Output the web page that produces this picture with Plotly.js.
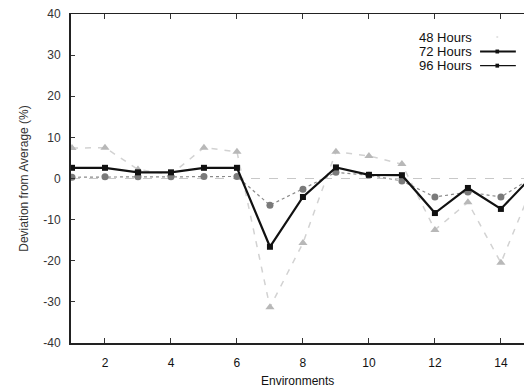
<!DOCTYPE html>
<html>
<head>
<meta charset="utf-8">
<script src="https://cdn.plot.ly/plotly-3.0.1.min.js"></script>
<style>html,body{margin:0;padding:0;background:#fff;}#chart{width:524px;height:389px;}</style>
</head>
<body>
<div id="chart"></div>
<script>
// Data
const environments = [1, 2, 3, 4, 5, 6, 7, 8, 9, 10, 11, 12, 13, 14, 15];
const hours48 = [7.4, 7.5, 2.2, 1.0, 7.5, 6.5, -31.3, -15.7, 6.5, 5.5, 3.5, -12.5, -5.8, -20.5, -1];
const hours72 = [2.6, 2.6, 1.5, 1.5, 2.6, 2.6, -16.6, -4.5, 2.7, 0.9, 0.8, -8.4, -2.3, -7.4, 1];
const hours96 = [0.3, 0.4, 0.4, 0.4, 0.5, 0.5, -6.5, -2.6, 1.5, 0.8, -0.6, -4.5, -3.3, -4.5, 0.5];
const seriesNames = ["48 Hours", "72 Hours", "96 Hours"];
const yTicks = [-40, -30, -20, -10, 0, 10, 20, 30, 40];
const xTicks = [2, 4, 6, 8, 10, 12, 14];

const font = "Liberation Sans, Arial, Helvetica, sans-serif";

const traces = [
  {
    x: environments, y: hours48, name: seriesNames[0], type: "scatter", mode: "lines+markers",
    line: {color: "#d2d2d2", width: 1.5, dash: "6px,7px"},
    marker: {symbol: "triangle-up", size: 8, color: "#b8b8b8"},
    showlegend: false
  },
  {
    x: environments, y: hours96, name: seriesNames[2], type: "scatter", mode: "lines+markers",
    line: {color: "#8a8a8a", width: 1.2, dash: "dot"},
    marker: {symbol: "circle", size: 7, color: "#7a7a7a"},
    showlegend: false
  },
  {
    x: environments, y: hours72, name: seriesNames[1], type: "scatter", mode: "lines+markers",
    line: {color: "#111", width: 2.2},
    marker: {symbol: "square", size: 6, color: "#111"},
    showlegend: false
  }
];

// legend (text on left, sample on right as in the reference)
const legY = [0.930, 0.886, 0.843];
const annotations = seriesNames.map((n, i) => ({
  xref: "paper", yref: "paper", x: 0.889, y: legY[i], xanchor: "right", yanchor: "middle",
  text: n, showarrow: false, font: {family: font, size: 13, color: "#111"}
}));
annotations.push({
  xref: "paper", yref: "paper", x: 0.5, y: -0.116, xanchor: "center", yanchor: "middle",
  text: "Environments", showarrow: false, font: {family: font, size: 12, color: "#111"}
});

const shapes = [
  {type: "line", xref: "paper", yref: "y", x0: 0, x1: 1, y0: 0, y1: 0,
   line: {color: "#c8c8c8", width: 1.2, dash: "dash"}, layer: "below"},
  {type: "line", xref: "paper", yref: "paper", x0: 0.903, x1: 0.982, y0: legY[1], y1: legY[1],
   line: {color: "#111", width: 2.2}},
  {type: "line", xref: "paper", yref: "paper", x0: 0.903, x1: 0.982, y0: legY[2], y1: legY[2],
   line: {color: "#111", width: 1.4}},
  {type: "rect", xref: "paper", yref: "paper", x0: 0.937, x1: 0.945, y0: legY[1] - 0.006, y1: legY[1] + 0.006,
   line: {width: 0}, fillcolor: "#111"},
  {type: "rect", xref: "paper", yref: "paper", x0: 0.937, x1: 0.945, y0: legY[2] - 0.006, y1: legY[2] + 0.006,
   line: {width: 0}, fillcolor: "#111"},
  {type: "rect", xref: "paper", yref: "paper", x0: 0.939, x1: 0.943, y0: legY[0] - 0.003, y1: legY[0] + 0.003,
   line: {width: 0}, fillcolor: "#e2e2e2"}
];

const layout = {
  width: 524, height: 389,
  margin: {l: 71, r: 0, t: 14, b: 46, pad: 0},
  paper_bgcolor: "#fff", plot_bgcolor: "#fff",
  font: {family: font, size: 12, color: "#222"},
  xaxis: {
    range: [0.97, 14.7], tickvals: xTicks, ticktext: xTicks.map(String),
    ticks: "inside", ticklen: 5, tickwidth: 1, tickcolor: "#333",
    showline: true, linecolor: "#222", linewidth: 1.5, mirror: "ticks",
    showgrid: false, zeroline: false,
    tickfont: {family: font, size: 12, color: "#111"}, ticklabelstandoff: 8
  },
  yaxis: {
    range: [-40, 40], tickvals: yTicks, ticktext: yTicks.map(String),
    ticks: "inside", ticklen: 4, tickwidth: 1, tickcolor: "#333",
    showline: true, linecolor: "#222", linewidth: 2, mirror: false,
    showgrid: false, zeroline: false,
    tickfont: {family: font, size: 12, color: "#333"}, ticklabelstandoff: 6,
    title: {text: "Deviation from Average (%)", font: {family: font, size: 12, color: "#333"}, standoff: 12}
  },
  annotations: annotations,
  shapes: shapes,
  showlegend: false
};

Plotly.newPlot("chart", traces, layout, {displayModeBar: false, staticPlot: true});
</script>
</body>
</html>
